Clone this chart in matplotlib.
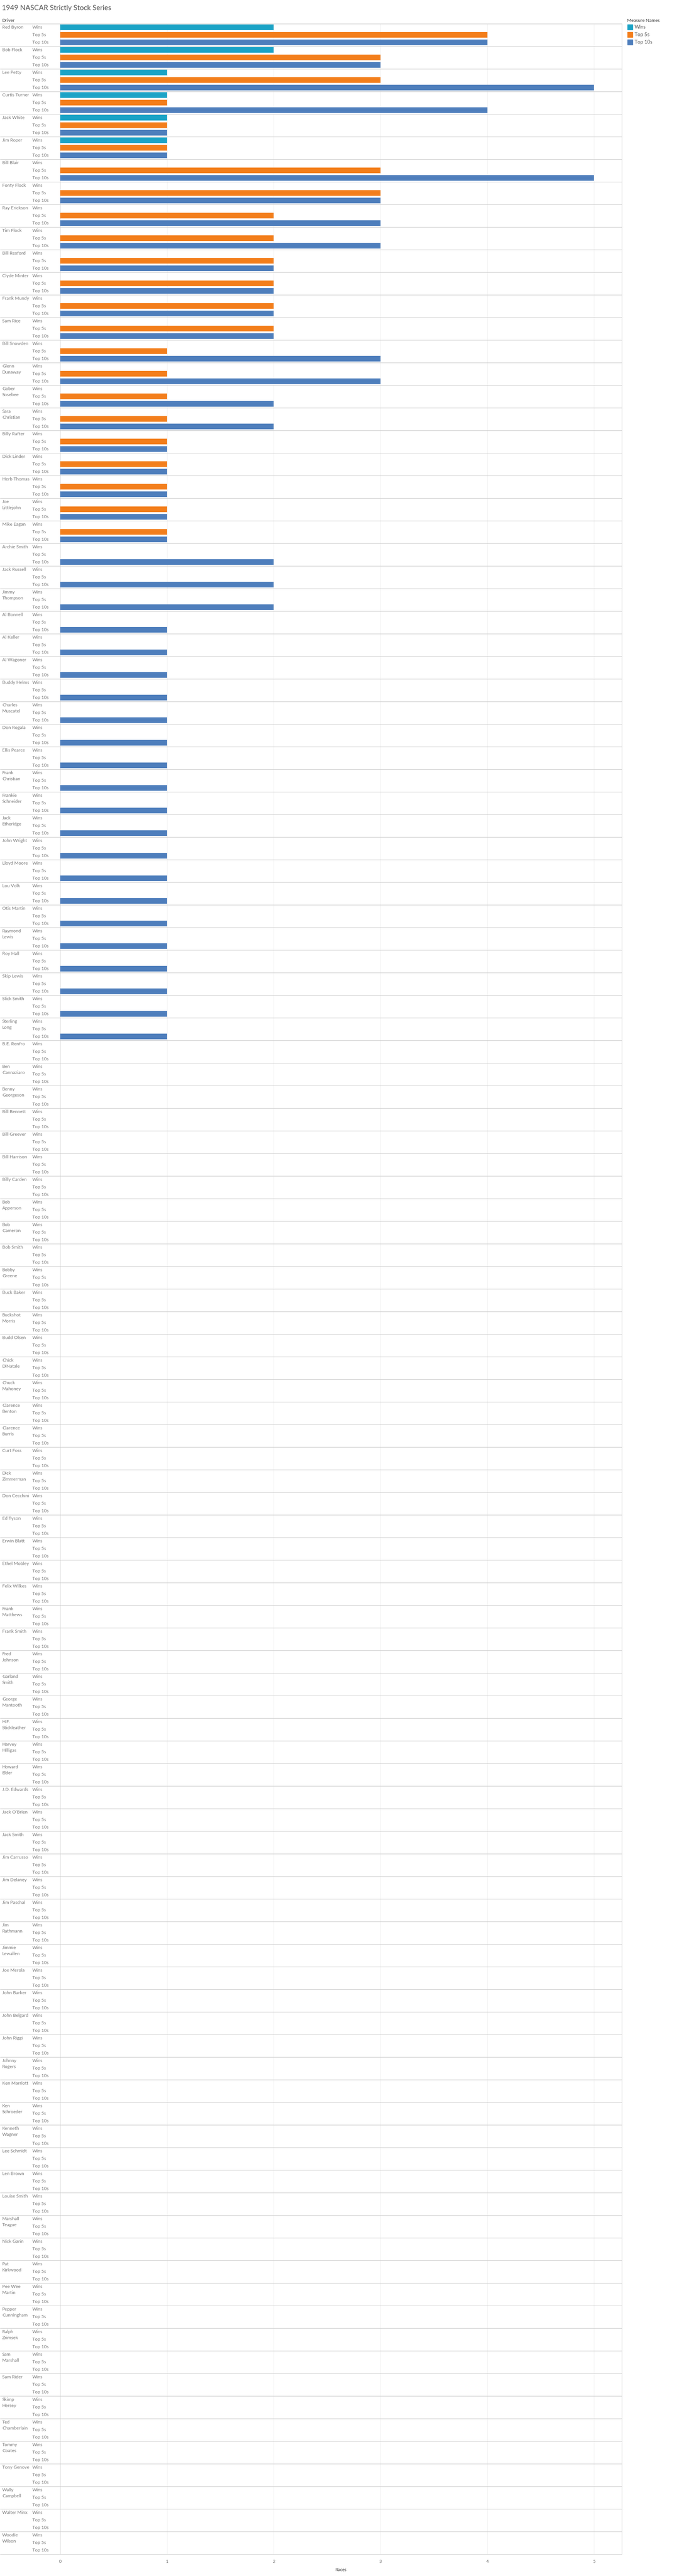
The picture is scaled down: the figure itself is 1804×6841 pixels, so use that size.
"""1949 NASCAR Strictly Stock Series - Tableau-style driver x measure bar table."""
import numpy as np
import matplotlib
matplotlib.use("Agg")
import matplotlib.pyplot as plt
from matplotlib.transforms import blended_transform_factory
from matplotlib.patches import Rectangle

W, H, DPI = 1804, 6841, 100

TITLE = "1949 NASCAR Strictly Stock Series"
MEASURES = ["Wins", "Top 5s", "Top 10s"]
MEASURE_COLOR = {"Wins": "#1ba3c6", "Top 5s": "#f37e1b", "Top 10s": "#4e7ebc"}

# names as they are displayed (line breaks where the reference wraps them)
DRIVERS = [
    "Red Byron", "Bob Flock", "Lee Petty", "Curtis Turner", "Jack White", "Jim Roper",
    "Bill Blair", "Fonty Flock", "Ray Erickson", "Tim Flock", "Bill Rexford", "Clyde Minter",
    "Frank Mundy", "Sam Rice", "Bill Snowden", "Glenn\nDunaway", "Gober\nSosebee",
    "Sara\nChristian", "Billy Rafter", "Dick Linder", "Herb Thomas", "Joe\nLittlejohn",
    "Mike Eagan", "Archie Smith", "Jack Russell", "Jimmy\nThompson", "Al Bonnell", "Al Keller",
    "Al Wagoner", "Buddy Helms", "Charles\nMuscatel", "Don Rogala", "Ellis Pearce",
    "Frank\nChristian", "Frankie\nSchneider", "Jack\nEtheridge", "John Wright", "Lloyd Moore",
    "Lou Volk", "Otis Martin", "Raymond\nLewis", "Roy Hall", "Skip Lewis", "Slick Smith",
    "Sterling\nLong", "B.E. Renfro", "Ben\nCannaziaro", "Benny\nGeorgeson", "Bill Bennett",
    "Bill Greever", "Bill Harrison", "Billy Carden", "Bob\nApperson", "Bob\nCameron",
    "Bob Smith", "Bobby\nGreene", "Buck Baker", "Buckshot\nMorris", "Budd Olsen",
    "Chick\nDiNatale", "Chuck\nMahoney", "Clarence\nBenton", "Clarence\nBurris", "Curt Foss",
    "Dick\nZimmerman", "Don Cecchini", "Ed Tyson", "Erwin Blatt", "Ethel Mobley",
    "Felix Wilkes", "Frank\nMatthews", "Frank Smith", "Fred\nJohnson", "Garland\nSmith",
    "George\nMantooth", "H.F.\nStickleather", "Harvey\nHilligas", "Howard\nElder",
    "J.D. Edwards", "Jack O\u2019Brien", "Jack Smith", "Jim Carrusso", "Jim Delaney",
    "Jim Paschal", "Jim\nRathmann", "Jimmie\nLewallen", "Joe Merola", "John Barker",
    "John Belgard", "John Riggi", "Johnny\nRogers", "Ken Marriott", "Ken\nSchroeder",
    "Kenneth\nWagner", "Lee Schmidt", "Len Brown", "Louise Smith", "Marshall\nTeague",
    "Nick Garin", "Pat\nKirkwood", "Pee Wee\nMartin", "Pepper\nCunningham", "Ralph\nZrimsek",
    "Sam\nMarshall", "Sam Rider", "Skimp\nHersey", "Ted\nChamberlain", "Tommy\nCoates",
    "Tony Genove", "Wally\nCampbell", "Walter Minx", "Woodie\nWilson",
]

# values for the first 45 drivers; the remaining drivers have zeros everywhere
WINS_TOP = [2, 2, 1, 1, 1, 1, 0, 0, 0, 0, 0, 0, 0, 0, 0, 0, 0, 0, 0, 0, 0, 0, 0,
            0, 0, 0, 0, 0, 0, 0, 0, 0, 0, 0, 0, 0, 0, 0, 0, 0, 0, 0, 0, 0, 0]
TOP5_TOP = [4, 3, 3, 1, 1, 1, 3, 3, 2, 2, 2, 2, 2, 2, 1, 1, 1, 1, 1, 1, 1, 1, 1,
            0, 0, 0, 0, 0, 0, 0, 0, 0, 0, 0, 0, 0, 0, 0, 0, 0, 0, 0, 0, 0, 0]
TOP10_TOP = [4, 3, 5, 4, 1, 1, 5, 3, 3, 3, 2, 2, 2, 2, 3, 3, 2, 2, 1, 1, 1, 1, 1,
             2, 2, 2, 1, 1, 1, 1, 1, 1, 1, 1, 1, 1, 1, 1, 1, 1, 1, 1, 1, 1, 1]

n_rest = len(DRIVERS) - len(WINS_TOP)
WINS = WINS_TOP + [0] * n_rest
TOP5 = TOP5_TOP + [0] * n_rest
TOP10 = TOP10_TOP + [0] * n_rest
VALUES = {"Wins": WINS, "Top 5s": TOP5, "Top 10s": TOP10}

X_TICKS = [0, 1, 2, 3, 4, 5]
X_MAX = 5.26

plt.rcParams.update({"font.family": ["Lato", "DejaVu Sans"]})

# pixel layout
PLOT_L, PLOT_R = 160, 1652
PLOT_T, PLOT_B = 63, 6783
NAME_X, MEAS_X = 6, 86

fig = plt.figure(figsize=(W / DPI, H / DPI), dpi=DPI)
ax = fig.add_axes([PLOT_L / W, 1 - PLOT_B / H, (PLOT_R - PLOT_L) / W, (PLOT_B - PLOT_T) / H])

n_rows = len(DRIVERS) * len(MEASURES)
ax.set_xlim(0, X_MAX)
ax.set_ylim(n_rows, 0)

for i, drv in enumerate(DRIVERS):
    for j, m in enumerate(MEASURES):
        v = VALUES[m][i]
        if v > 0:
            ax.barh(3 * i + j + 0.5, v, height=0.75, color=MEASURE_COLOR[m], zorder=3)

for x in X_TICKS[1:]:
    ax.axvline(x, color="#efefef", linewidth=0.8, zorder=1)

for sp in ax.spines.values():
    sp.set_visible(False)
ax.axvline(0, color="#d6d6d6", linewidth=0.8, zorder=2)
ax.axvline(X_MAX, color="#d6d6d6", linewidth=0.8, zorder=2, clip_on=False)

ax.set_yticks([])
ax.set_xticks(X_TICKS)
ax.set_xticklabels([str(t) for t in X_TICKS], color="#666666", fontsize=8)
ax.tick_params(axis="x", length=0, pad=10)
ax.set_xlabel("Races", color="#333333", fontsize=8.5, labelpad=8)

# row labels + separators (figure-x in pixels, y in data units)
blend = blended_transform_factory(fig.transFigure, ax.transData)
sep_y = np.arange(0, n_rows + 1, 3)
ax.hlines(sep_y, 0, PLOT_R / W, transform=blend, colors="#c8c8c8", linewidth=0.9,
          clip_on=False, zorder=4)
for i, drv in enumerate(DRIVERS):
    ax.text(NAME_X / W, 3 * i + 0.18, drv, transform=blend, ha="left", va="top",
            fontsize=8.7, color="#777777", linespacing=1.55)
    for j, m in enumerate(MEASURES):
        ax.text(MEAS_X / W, 3 * i + j + 0.5, m, transform=blend, ha="left", va="center",
                fontsize=8.7, color="#777777")

# title, column header
fig.text(5 / W, 1 - 22 / H, TITLE, ha="left", va="center", fontsize=13.5, color="#555555")
fig.text(6 / W, 1 - 54 / H, "Driver", ha="left", va="center", fontsize=8.7, color="#333333")

# legend
fig.text(1666 / W, 1 - 54 / H, "Measure Names", ha="left", va="center", fontsize=8.7,
         color="#333333")
for k, m in enumerate(MEASURES):
    yc = 72 + 20 * k
    fig.patches.append(Rectangle((1667 / W, 1 - (yc + 7) / H), 14 / W, 14 / H,
                                 transform=fig.transFigure, color=MEASURE_COLOR[m]))
    fig.text(1686 / W, 1 - yc / H, m, ha="left", va="center", fontsize=9.5, color="#555555")

fig.savefig("out.png", dpi=DPI)
